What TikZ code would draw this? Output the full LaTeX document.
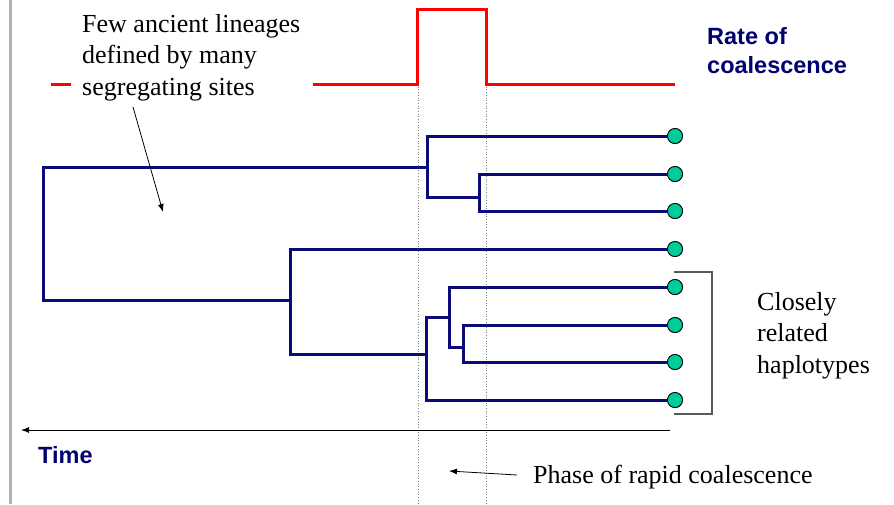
\documentclass[tikz,border=0pt]{standalone}
\usepackage{fontspec}
\setmainfont{Liberation Serif}
\setsansfont{Liberation Sans}
\usetikzlibrary{arrows.meta}
\definecolor{navyblue}{RGB}{0,0,110}
\definecolor{treeblue}{RGB}{10,10,120}
\definecolor{leafgreen}{RGB}{0,204,153}
\definecolor{redline}{RGB}{255,0,0}
\tikzset{
  branch/.style={draw=treeblue,line width=3pt},
  leaf/.style={circle,draw=black,line width=0.8pt,fill=leafgreen,minimum size=15pt,inner sep=0pt},
  rate/.style={draw=redline,line width=3pt},
  guide/.style={draw=gray,line width=0.7pt,dotted},
  serifnote/.style={font=\fontsize{26}{31.5}\selectfont,align=left,inner sep=0pt,anchor=base west},
  bluelabel/.style={font=\sffamily\bfseries\fontsize{23.5}{29}\selectfont,text=navyblue,align=left,inner sep=0pt,anchor=base west},
  pointer/.style={draw=black,line width=0.8pt,-{Latex[length=8pt,width=6pt]}},
}
\begin{document}
\begin{tikzpicture}[x=1pt,y=-1pt]
\path[use as bounding box] (0,0) rectangle (894,504);
% left gray border
\draw[draw=gray!60,line width=3pt] (10.5,0) -- (10.5,504);
% dotted guides
\draw[guide] (418,84) -- (418,504);
\draw[guide] (486.7,84) -- (486.7,504);
% red rate curve
\draw[rate] (51,84) -- (71,84);
\draw[rate] (313,84) -- (417,84) -- (417,9) -- (486,9) -- (486,84) -- (675,84);
% leaves
\node[leaf] (l1) at (675,136) {};
\node[leaf] (l2) at (675,174) {};
\node[leaf] (l3) at (675,211) {};
\node[leaf] (l4) at (675,249) {};
\node[leaf] (l5) at (675,287) {};
\node[leaf] (l6) at (675,325) {};
\node[leaf] (l7) at (675,362) {};
\node[leaf] (l8) at (675,400) {};
% internal coordinates
\coordinate (n1) at (427,167);
\coordinate (n2) at (479,197);
\coordinate (root) at (43,167);
\coordinate (n3) at (290,300);
\coordinate (n4) at (426,354);
\coordinate (n5) at (449,317);
\coordinate (n6) at (463,347);
% branches
\draw[branch] (l2.west) -| (479,211) -- (l3.west);
\draw[branch] (l1.west) -| (427,197) -- (n2);
\draw[branch] (n1) -- (root) -- (43,300) -- (n3);
\draw[branch] (l4.west) -| (290,354) -- (n4);
\draw[branch] (l8.west) -| (426,317) -- (n5);
\draw[branch] (l5.west) -| (449,347) -- (n6);
\draw[branch] (l6.west) -| (463,362) -- (l7.west);
% redraw leaves on top
\foreach \i in {1,...,8}{\node[leaf] at (l\i) {};}
% bracket
\coordinate (bt) at (674,272);
\coordinate (bb) at (674,414);
\draw[draw=gray!70!black,line width=1.3pt] (bt) -- (712,272) -- (712,414) -- (bb);
% time axis
\coordinate (tstart) at (670,430);
\coordinate (tend) at (21,430);
\draw[draw=black,line width=1pt,-{Latex[length=8pt,width=6pt]}] (tstart) -- (tend);
% texts (anchor = baseline of last line)
\node[serifnote] (few) at (82,95) {Few ancient lineages\\defined by many\\segregating sites};
\node[serifnote] (close) at (757,373) {Closely\\related\\haplotypes};
\node[serifnote] (phase) at (533,483) {Phase of rapid coalescence};
\node[bluelabel] (rate) at (707,73) {Rate of\\coalescence};
\node[bluelabel] (time) at (38,463) {Time};
% pointers
\coordinate (fewtip) at (163,212);
\coordinate (fewstart) at (133,107);
\draw[pointer] (fewstart) -- (fewtip);
\coordinate (phstart) at (517,475);
\coordinate (phtip) at (449,471);
\draw[pointer] (phstart) -- (phtip);
\end{tikzpicture}
\end{document}
